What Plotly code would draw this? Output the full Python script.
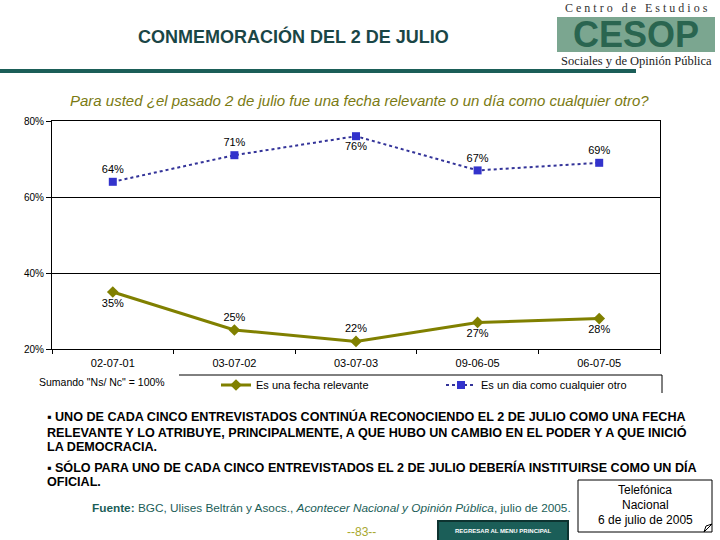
import plotly.graph_objects as go

categories = ["02-07-01", "03-07-02", "03-07-03", "09-06-05", "06-07-05"]
relevante = [35, 25, 22, 27, 28]
cualquier = [64, 71, 76, 67, 69]
y_ticks = [20, 40, 60, 80]
y_tick_labels = ["20%", "40%", "60%", "80%"]

W, H = 720, 540
L, R, T, B = 52, 60, 121, 191
PW = W - L - R
PH = H - T - B

def px(x):
    return (x - L) / PW

def py(y):
    return (H - B - y) / PH

SANS = "Liberation Sans, Arial, sans-serif"
SERIF = "Liberation Serif, Times New Roman, serif"
TEAL = "#1b5e58"
OLIVE = "#808000"
BLUE_L = "#333399"
BLUE_M = "#3333cc"

fig = go.Figure()

fig.add_trace(go.Scatter(
    x=categories, y=relevante, name="Es una fecha relevante",
    mode="lines+markers+text",
    line=dict(color=OLIVE, width=3),
    marker=dict(symbol="diamond", size=9, color=OLIVE),
    texttemplate="%{y}%",
    textposition=["bottom center", "top center", "top center", "bottom center", "bottom center"],
    textfont=dict(family=SANS, size=11, color="#000000"),
    legend="legend", cliponaxis=False,
))
fig.add_trace(go.Scatter(
    x=categories, y=cualquier, name="Es un dia como cualquier otro",
    mode="lines+markers+text",
    line=dict(color=BLUE_L, width=2, dash="dot"),
    marker=dict(symbol="square", size=8, color=BLUE_M),
    texttemplate="%{y}%",
    textposition=["top center", "top center", "bottom center", "top center", "top center"],
    textfont=dict(family=SANS, size=11, color="#000000"),
    legend="legend2", cliponaxis=False,
))

shapes = [
    dict(type="rect", xref="paper", yref="paper", x0=px(0), x1=px(636), y0=py(69), y1=py(73),
         fillcolor=TEAL, line=dict(width=0)),
    dict(type="rect", xref="paper", yref="paper", x0=px(557), x1=px(715), y0=py(17), y1=py(52),
         fillcolor="#7ba690", line=dict(width=0)),
    dict(type="line", xref="paper", yref="paper", x0=px(179), x1=px(662), y0=py(375), y1=py(375),
         line=dict(color="#000000", width=1)),
    dict(type="line", xref="paper", yref="paper", x0=px(662), x1=px(662), y0=py(375), y1=py(393),
         line=dict(color="#000000", width=1)),
    dict(type="rect", xref="paper", yref="paper", x0=px(438), x1=px(568), y0=py(521), y1=py(542),
         fillcolor=TEAL, line=dict(color="#0d3330", width=2)),
    dict(type="rect", xref="paper", yref="paper", x0=px(578), x1=px(712), y0=py(480), y1=py(532),
         fillcolor="#ffffff", line=dict(color="#000000", width=1)),
    dict(type="path", xref="paper", yref="paper",
         path=f"M {px(704)} {py(532)} L {px(712)} {py(524)} L {px(706)} {py(526)} Z",
         fillcolor="#ffffff", line=dict(color="#000000", width=1)),
]

ann = []
def text(x, y, s, size, color="#000000", family=SANS, xanchor="left", bold=False, italic=False):
    if bold:
        s = f"<b>{s}</b>"
    if italic:
        s = f"<i>{s}</i>"
    ann.append(dict(xref="paper", yref="paper", x=px(x), y=py(y), text=s, showarrow=False,
                    xanchor=xanchor, yanchor="middle",
                    font=dict(family=family, size=size, color=color)))

text(293, 37, "CONMEMORACIÓN DEL 2 DE JULIO", 18, "#1a4646", xanchor="center", bold=True)
text(636, 8, "C e n t r o   d e   E s t u d i o s", 12, "#333333", SERIF, xanchor="center")
text(636, 34, "CESOP", 36, "#2a6550", SANS, xanchor="center", bold=True)
text(636, 61, "Sociales y de Opinión Pública", 12.5, "#222222", SERIF, xanchor="center")
text(359, 100, "Para usted ¿el pasado 2 de julio fue una fecha relevante o un día como cualquier otro?",
     15, "#7a7a12", SANS, xanchor="center", italic=True)
text(37, 382, "Sumando \"Ns/ Nc\" = 100%", 10.5, "#000000")

bullets = [
    (416, "▪ UNO DE CADA CINCO ENTREVISTADOS CONTINÚA RECONOCIENDO EL 2 DE JULIO COMO UNA FECHA"),
    (432, "RELEVANTE Y LO ATRIBUYE, PRINCIPALMENTE, A QUE HUBO UN CAMBIO EN EL PODER Y A QUE INICIÓ"),
    (447, "LA DEMOCRACIA."),
    (467, "▪ SÓLO PARA UNO DE CADA CINCO ENTREVISTADOS EL 2 DE JULIO DEBERÍA INSTITUIRSE COMO UN DÍA"),
    (482, "OFICIAL."),
]
for y, s in bullets:
    text(45, y, s, 12.6, "#000000", SANS, bold=True)

text(90, 508, "<b>Fuente:</b> BGC, Ulises Beltrán y Asocs., <i>Acontecer Nacional y Opinión Pública</i>, julio de 2005.",
     11.8, TEAL, SANS)
text(362, 532, "--83--", 12, "#a8a830", SANS, xanchor="center")
text(503, 531, "REGRESAR AL MENU PRINCIPAL", 6, "#ffffff", SANS, xanchor="center", bold=True)
text(645, 490, "Telefónica", 12, "#000000", SANS, xanchor="center")
text(645, 505, "Nacional", 12, "#000000", SANS, xanchor="center")
text(645, 520, "6 de julio de 2005", 12, "#000000", SANS, xanchor="center")

fig.update_layout(
    width=W, height=H,
    margin=dict(l=L, r=R, t=T, b=B, pad=0),
    paper_bgcolor="#ffffff", plot_bgcolor="#ffffff",
    font=dict(family=SANS, size=11, color="#000000"),
    xaxis=dict(
        type="category", range=[-0.5, 4.5], showline=True, linecolor="#000000", linewidth=1,
        mirror=True, ticks="outside", tickson="boundaries", ticklen=4, tickcolor="#000000",
        showgrid=False, zeroline=False, ticklabelstandoff=4,
        tickfont=dict(family=SANS, size=11, color="#000000"),
    ),
    yaxis=dict(
        range=[20, 80], tickvals=y_ticks, ticktext=y_tick_labels, showline=True,
        linecolor="#000000", linewidth=1, mirror=True, ticks="outside", ticklen=5,
        tickcolor="#000000", showgrid=True, gridcolor="#000000", gridwidth=1, zeroline=False,
        tickfont=dict(family=SANS, size=10, color="#000000"),
    ),
    legend=dict(orientation="h", x=px(216), y=py(385), xanchor="left", yanchor="middle",
                bgcolor="rgba(0,0,0,0)", font=dict(family=SANS, size=11, color="#000000")),
    legend2=dict(orientation="h", x=px(441), y=py(385), xanchor="left", yanchor="middle",
                 bgcolor="rgba(0,0,0,0)", font=dict(family=SANS, size=11, color="#000000")),
    shapes=shapes,
    annotations=ann,
    showlegend=True,
)

fig.write_html("out.html", config={"displayModeBar": False},
               post_script="document.body.style.margin='0';")
